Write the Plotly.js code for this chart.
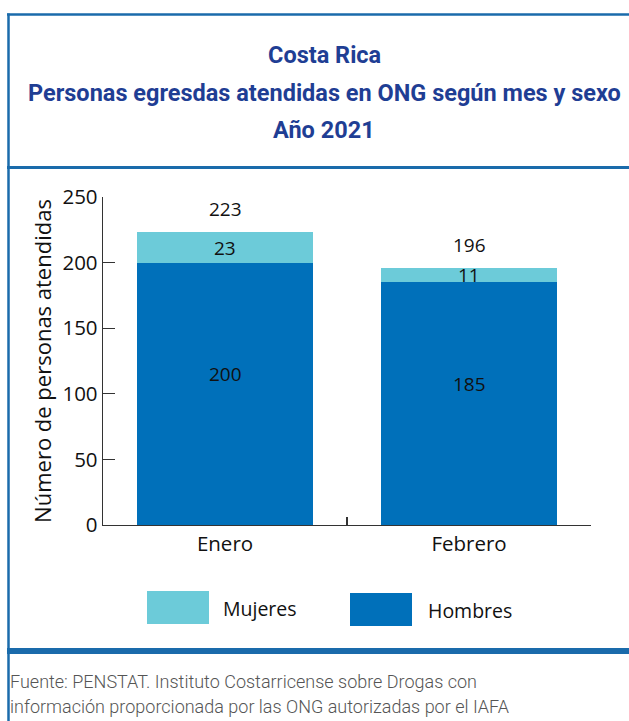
<!DOCTYPE html>
<html>
<head>
<meta charset="utf-8">
<script src="https://cdn.plot.ly/plotly-3.0.1.min.js"></script>
<style>html,body{margin:0;padding:0;background:#fff;}#chart{width:629px;height:721px;}</style>
</head>
<body>
<div id="chart"></div>
<script>
// ---- data ----
const categories = ['Enero', 'Febrero'];
const hombres = [200, 185];
const mujeres = [23, 11];
const totals = [223, 196];
const seriesNames = ['Hombres', 'Mujeres'];
const yTicks = [0, 50, 100, 150, 200, 250];
const titleLines = ['Costa Rica', 'Personas egresdas atendidas en ONG según mes y sexo', 'Año 2021'];
const sourceLines = ['Fuente: PENSTAT. Instituto Costarricense sobre Drogas con', 'información proporcionada por las ONG autorizadas por el IAFA'];
const yTitle = 'Número de personas atendidas';

// ---- style ----
const W = 629, H = 721;
const L = 103, R = 591, T = 197, B = 525;
const fx = px => (px - L) / (R - L);
const fy = py => (B - py) / (B - T);
const cHombres = '#0070BA', cMujeres = '#6CCBD9', cFrame = '#1A6BAB', cTitle = '#1F3E94';
const fontMain = 'Open Sans, sans-serif';

const traces = [
  {type: 'bar', x: categories, y: hombres, name: seriesNames[0], marker: {color: cHombres}, hoverinfo: 'skip'},
  {type: 'bar', x: categories, y: mujeres, name: seriesNames[1], marker: {color: cMujeres}, hoverinfo: 'skip'}
];

const annotations = [];
titleLines.forEach((t, i) => annotations.push({
  xref: 'paper', yref: 'paper', x: fx(324), y: fy([55, 93, 130][i]), xanchor: 'center', yanchor: 'middle',
  text: '<b>' + t + '</b>', showarrow: false, font: {family: 'Roboto, sans-serif', size: 23.5, color: cTitle}
}));
sourceLines.forEach((t, i) => annotations.push({
  xref: 'paper', yref: 'paper', x: fx(8), y: fy([681, 706][i]), xanchor: 'left', yanchor: 'middle',
  text: t, showarrow: false, font: {family: 'Roboto, sans-serif', size: 18, color: '#555', weight: 300}
}));
categories.forEach((c, i) => {
  annotations.push({x: c, y: hombres[i] / 2, xref: 'x', yref: 'y', text: String(hombres[i]), showarrow: false,
    yshift: 20, font: {family: fontMain, size: 19, color: '#111'}});
  annotations.push({x: c, y: hombres[i] + mujeres[i] / 2, xref: 'x', yref: 'y', text: String(mujeres[i]), showarrow: false,
    font: {family: fontMain, size: 19, color: '#111'}});
  annotations.push({x: c, y: totals[i], xref: 'x', yref: 'y', text: String(totals[i]), showarrow: false,
    yanchor: 'bottom', yshift: 8, font: {family: fontMain, size: 19, color: '#111'}});
});
// legend (Mujeres, Hombres)
const legendItems = [
  {name: seriesNames[1], color: cMujeres, box: [147, 209, 591, 624], tx: 221, ty: 608},
  {name: seriesNames[0], color: cHombres, box: [350, 412, 593, 626], tx: 426, ty: 610}
];
const shapes = [];
legendItems.forEach(it => {
  shapes.push({type: 'rect', xref: 'paper', yref: 'paper', x0: fx(it.box[0]), x1: fx(it.box[1]), y0: fy(it.box[3]), y1: fy(it.box[2]),
    fillcolor: it.color, line: {width: 0}});
  annotations.push({xref: 'paper', yref: 'paper', x: fx(it.tx), y: fy(it.ty), xanchor: 'left', yanchor: 'middle',
    text: it.name, showarrow: false, font: {family: fontMain, size: 19.5, color: '#111'}});
});
// frame lines
const hline = (py, w) => ({type: 'line', xref: 'paper', yref: 'paper', x0: fx(7), x1: fx(W + 2), y0: fy(py), y1: fy(py), line: {color: cFrame, width: w}});
shapes.push(hline(14.5, 2.5), hline(167.5, 3), hline(649.5, 3), hline(652.5, 3));
shapes.push({type: 'line', xref: 'paper', yref: 'paper', x0: fx(8.5), x1: fx(8.5), y0: fy(13.5), y1: fy(H + 2), line: {color: cFrame, width: 2.5}});

const layout = {
  width: W, height: H,
  margin: {l: L, r: W - R, t: T, b: H - B, pad: 0},
  paper_bgcolor: '#fff', plot_bgcolor: '#fff',
  barmode: 'stack', bargap: 0.28, showlegend: false,
  font: {family: fontMain, color: '#111'},
  xaxis: {type: 'category', range: [-0.5, 1.5], showline: true, linecolor: '#333', linewidth: 1.3,
    ticks: 'inside', tickson: 'boundaries', ticklen: 8, tickcolor: '#333', tickwidth: 1.3,
    tickfont: {family: fontMain, size: 20.5, color: '#111'}, showgrid: false, zeroline: false, fixedrange: true},
  yaxis: {range: [0, 250], tickvals: yTicks, showline: true, linecolor: '#333', linewidth: 1.3,
    ticks: 'inside', ticklen: 12, tickcolor: '#333', tickwidth: 1.3, showgrid: false, zeroline: false,
    tickfont: {family: fontMain, size: 20.5, color: '#111'},
    title: {text: yTitle, font: {family: fontMain, size: 22, color: '#111'}, standoff: 4}, fixedrange: true},
  annotations: annotations,
  shapes: shapes
};

Plotly.newPlot('chart', traces, layout, {displayModeBar: false, staticPlot: true});
</script>
</body>
</html>
